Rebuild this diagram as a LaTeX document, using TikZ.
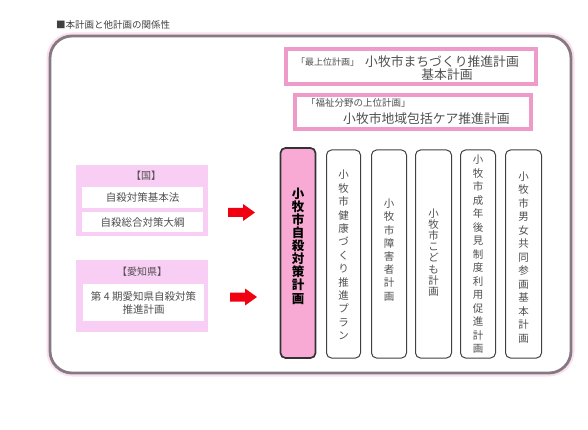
\documentclass[tikz,border=0pt]{standalone}
\usepackage{fontspec}
\setmainfont{Noto Sans CJK JP}
\definecolor{pinkline}{HTML}{EE9BC9}
\definecolor{leftfill}{HTML}{F9CEF5}
\definecolor{mainfill}{HTML}{F8AAD4}
\definecolor{outergray}{HTML}{857A84}
\definecolor{glow}{HTML}{FBE1EE}
\definecolor{txtgray}{HTML}{505050}
\definecolor{arrred}{HTML}{F00010}
\tikzset{
  fs/.style={font=\fontsize{#1}{#1}\selectfont},
  txt/.style={inner sep=0pt, text=txtgray},
  topbox/.style={draw=pinkline, line width=4pt, fill=white},
  leftbox/.style={fill=leftfill},
  innerbox/.style={fill=white},
  planbox/.style={draw=black!75, line width=1pt, rounded corners=5pt, fill=white},
  mainbox/.style={draw=black!80, line width=1.7pt, rounded corners=5pt, fill=mainfill},
  vtext/.style={inner sep=0pt, align=center, text=txtgray, font=\fontsize{10.5}{#1}\selectfont},
  bigarrow/.style={fill=arrred}
}
\begin{document}
\begin{tikzpicture}[x=1pt,y=-1pt]
\useasboundingbox (0,0) rectangle (588,430);
\fill[white] (0,0) rectangle (588,430);

% title
\node[txt, anchor=west, fs=9.5, text=black!75] (title) at (56,25) {■本計画と他計画の関係性};

% outer frame
\draw[glow, line width=7pt, rounded corners=22pt] (50,36) rectangle (571,373);
\draw[outergray, line width=2.8pt, rounded corners=22pt, fill=white] (50,36) rectangle (571,373);

% top boxes
\node[topbox, minimum width=250pt, minimum height=35pt, inner sep=0pt] (top1) at (411,66.5) {};
\node[txt, anchor=west, fs=9] (top1a) at (296,62) {「最上位計画」};
\node[txt, anchor=west, fs=12.8] (top1b) at (365,61.5) {小牧市まちづくり推進計画};
\node[txt, fs=12.8] (top1c) at (447,74.5) {基本計画};

\node[topbox, minimum width=236pt, minimum height=34pt, inner sep=0pt] (top2) at (413,112) {};
\node[txt, anchor=west, fs=9.5] (top2a) at (306,103) {「福祉分野の上位計画」};
\node[txt, anchor=west, fs=12.8] (top2b) at (343,118.5) {小牧市地域包括ケア推進計画};

% left boxes: national
\node[leftbox, minimum width=132pt, minimum height=71pt, inner sep=0pt] (kuni) at (142,200.5) {};
\node[txt, fs=10] (kunilab) at (146,176) {【国】};
\node[innerbox, minimum width=121pt, minimum height=21pt, inner sep=0pt] (kuni1) at (142.5,197.5) {};
\node[txt, fs=10.5] (kuni1t) at (kuni1) {自殺対策基本法};
\node[innerbox, minimum width=121pt, minimum height=20pt, inner sep=0pt] (kuni2) at (142.5,222) {};
\node[txt, fs=10.5] (kuni2t) at (kuni2) {自殺総合対策大綱};

% left boxes: Aichi
\node[leftbox, minimum width=132pt, minimum height=72pt, inner sep=0pt] (aichi) at (142,296) {};
\node[txt, fs=10] (aichilab) at (142,272) {【愛知県】};
\node[innerbox, minimum width=121pt, minimum height=37pt, inner sep=0pt] (aichi1) at (143.5,302.5) {};
\node[txt, align=center, font=\fontsize{10.5}{13}\selectfont] (aichi1t) at (aichi1) {第 4 期愛知県自殺対策\\推進計画};

% arrows
\coordinate (arr1) at (228,212.5);
\fill[bigarrow] (arr1) ++(0,-4.5) -- ++(15,0) -- ++(0,-4) -- ++(12,8.5) -- ++(-12,8.5) -- ++(0,-4) -- ++(-15,0) -- cycle;
\coordinate (arr2) at (230,297);
\fill[bigarrow] (arr2) ++(0,-4.5) -- ++(15,0) -- ++(0,-4) -- ++(12,8.5) -- ++(-12,8.5) -- ++(0,-4) -- ++(-15,0) -- cycle;

% plan boxes
\node[mainbox, minimum width=35pt, minimum height=210pt, inner sep=0pt] (p0) at (298,253) {};
\node[inner sep=0pt, align=center, text=black, font=\fontsize{12.5}{13.1}\selectfont\bfseries] (p0t) at (298,246) {小\\牧\\市\\自\\殺\\対\\策\\計\\画};

\node[planbox, minimum width=34pt, minimum height=208pt, inner sep=0pt] (p1) at (343.5,254) {};
\node[vtext=13.4] (p1t) at (343.5,255) {小\\牧\\市\\健\\康\\づ\\く\\り\\推\\進\\プ\\ラ\\ン};

\node[planbox, minimum width=35pt, minimum height=208pt, inner sep=0pt] (p2) at (389,254) {};
\node[vtext=13.2] (p2t) at (389,250) {小\\牧\\市\\障\\害\\者\\計\\画};

\node[planbox, minimum width=36pt, minimum height=208pt, inner sep=0pt] (p3) at (433.5,254) {};
\node[vtext=11.1] (p3t) at (433.5,252.5) {小\\牧\\市\\こ\\ど\\も\\計\\画};

\node[planbox, minimum width=35pt, minimum height=208pt, inner sep=0pt] (p4) at (478,254) {};
\node[vtext=13.5] (p4t) at (478,254.5) {小\\牧\\市\\成\\年\\後\\見\\制\\度\\利\\用\\促\\進\\計\\画};

\node[planbox, minimum width=36pt, minimum height=208pt, inner sep=0pt] (p5) at (523.5,254) {};
\node[vtext=13.5] (p5t) at (523.5,257.5) {小\\牧\\市\\男\\女\\共\\同\\参\\画\\基\\本\\計\\画};
\end{tikzpicture}
\end{document}
